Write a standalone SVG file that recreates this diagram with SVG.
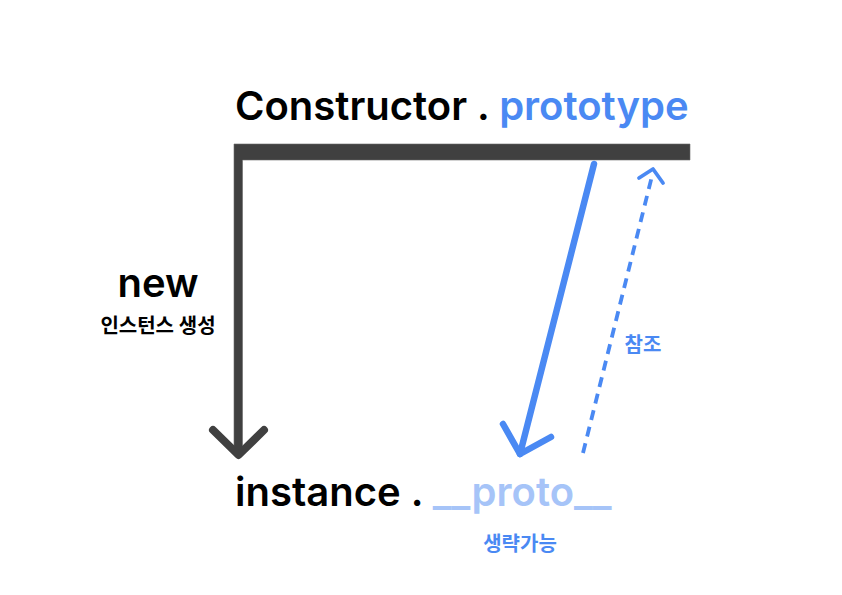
<svg xmlns="http://www.w3.org/2000/svg" width="842" height="595" viewBox="0 0 842 595">
<style>
text{font-family:Inter,"Noto Sans CJK KR",sans-serif;font-weight:600}
.big{font-size:40px}
.k{font-size:20px;font-weight:700}
.dark{fill:#000}
.blue{fill:#4a89f3}
.light{fill:#a6c4f8}
.ln{fill:none;stroke-linecap:round;stroke-linejoin:round}
</style>
<rect width="842" height="595" fill="#fff"/>
<g id="constructor"><text class="big dark" x="235" y="120">Constructor . <tspan class="blue">prototype</tspan></text></g>
<g id="new-label"><text class="big dark" x="158" y="297" text-anchor="middle">new</text><text class="k dark" x="158" y="333" text-anchor="middle">인스턴스 생성</text></g>
<g id="instance"><text class="big dark" x="235" y="506">instance . <tspan class="light">__proto__</tspan></text></g>
<g id="ref-label"><text class="k blue" x="643" y="352" text-anchor="middle">참조</text></g>
<g id="omit-label"><text class="k blue" x="520" y="551" text-anchor="middle">생략가능</text></g>
<g id="connectors">
<path d="M234,144 H690 V160 H242.5 V452 H234 Z" fill="#404040" stroke="#6a6a6a" stroke-width="0.6"/>
<path class="ln" d="M213,430 L238.5,455 L264,430" stroke="#404040" stroke-width="8"/>
<path class="ln" d="M594,164 L520,454" stroke="#4a89f3" stroke-width="6.5"/>
<path class="ln" d="M503,424 L520,454 L551,437" stroke="#4a89f3" stroke-width="6.5"/>
<path d="M583,453 L652,176" fill="none" stroke="#4a89f3" stroke-width="3.8" stroke-dasharray="10,7"/>
<path class="ln" d="M639,178 L653,169 L663,183" stroke="#4a89f3" stroke-width="3.8"/>
</g>
</svg>
